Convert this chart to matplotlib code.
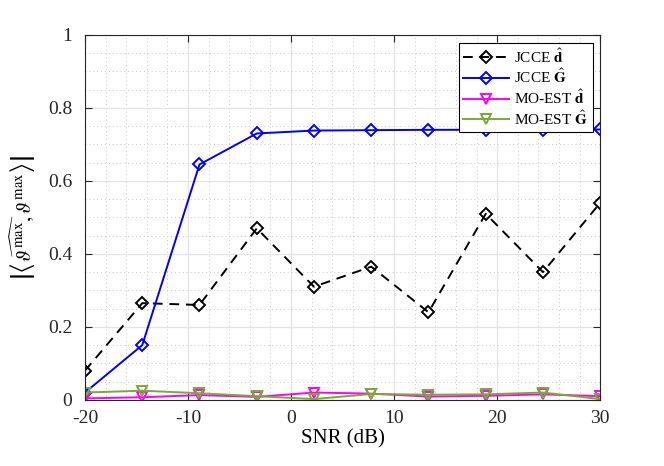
import numpy as np
import matplotlib
matplotlib.use("Agg")
import matplotlib.pyplot as plt
from matplotlib.ticker import MultipleLocator, FuncFormatter

plt.rcParams['font.family'] = ['Liberation Serif', 'DejaVu Serif']
plt.rcParams['mathtext.fontset'] = 'stix'
plt.rcParams['axes.unicode_minus'] = False

# SNR points (dB)
snr = [-20, -14.44, -8.89, -3.33, 2.22, 7.78, 13.33, 18.89, 24.44, 30]

# correlation values
jcce_d = [0.08, 0.265, 0.26, 0.47, 0.31, 0.365, 0.24, 0.51, 0.35, 0.54]
jcce_G = [0.02, 0.15, 0.645, 0.73, 0.738, 0.739, 0.74, 0.74, 0.74, 0.741]
moest_d = [0.004, 0.007, 0.013, 0.008, 0.02, 0.017, 0.009, 0.011, 0.015, 0.01]
moest_G = [0.02, 0.025, 0.018, 0.01, 0.002, 0.016, 0.014, 0.015, 0.02, 0.002]

fig = plt.figure(figsize=(6.64, 4.66), dpi=100)
ax = fig.add_axes([0.128, 0.142, 0.776, 0.783])

ax.plot(snr, jcce_d, color='k', ls='--', lw=1.4, marker='D', ms=6,
        mfc='none', mew=1.4, dashes=(5, 3.5), label=r'JCCE $\hat{\mathbf{d}}$')
ax.plot(snr, jcce_G, color='#0000FF', lw=1.4, marker='D', ms=6,
        mfc='none', mew=1.4, label=r'JCCE $\hat{\mathbf{G}}$')
ax.plot(snr, moest_d, color='#FF00FF', lw=1.4, marker='v', ms=7.5,
        mfc='none', mew=1.4, label=r'MO-EST $\hat{\mathbf{d}}$')
ax.plot(snr, moest_G, color='#77AC30', lw=1.4, marker='v', ms=7.5,
        mfc='none', mew=1.4, label=r'MO-EST $\hat{\mathbf{G}}$')

ax.set_xlim(-20, 30)
ax.set_ylim(0, 1)
ax.xaxis.set_major_locator(MultipleLocator(10))
ax.xaxis.set_minor_locator(MultipleLocator(2))
ax.yaxis.set_major_locator(MultipleLocator(0.2))
ax.yaxis.set_minor_locator(MultipleLocator(0.05))
ax.yaxis.set_major_formatter(FuncFormatter(lambda v, p: '%g' % round(v, 2)))

ax.grid(which='major', color='#e3e3e3', lw=0.9)
ax.grid(which='minor', color='#c8c8c8', ls=(0, (1, 3)), lw=0.7)
ax.set_axisbelow(True)

for s in ax.spines.values():
    s.set_color('#262626')
    s.set_linewidth(0.8)
ax.tick_params(which='both', direction='in', top=True, right=True,
               colors='#262626', labelsize=14)
ax.tick_params(which='major', length=5)
ax.tick_params(which='minor', length=0)
ax.tick_params(axis='x', pad=7)
ax.tick_params(axis='y', pad=9)

ax.set_xlabel('SNR (dB)', fontsize=15, labelpad=2)
ax.set_ylabel(r'$\left|\left\langle\widehat{\vartheta^{\max}},\vartheta^{\max}\right\rangle\right|$',
              fontsize=15, labelpad=8)

leg = ax.legend(loc='upper right', fontsize=11, fancybox=False, framealpha=1,
                edgecolor='k', handlelength=3.0, labelspacing=0.15,
                borderpad=0.3, handletextpad=0.3, borderaxespad=0.5)
leg.get_frame().set_linewidth(0.8)

fig.savefig('out.png', dpi=100)
